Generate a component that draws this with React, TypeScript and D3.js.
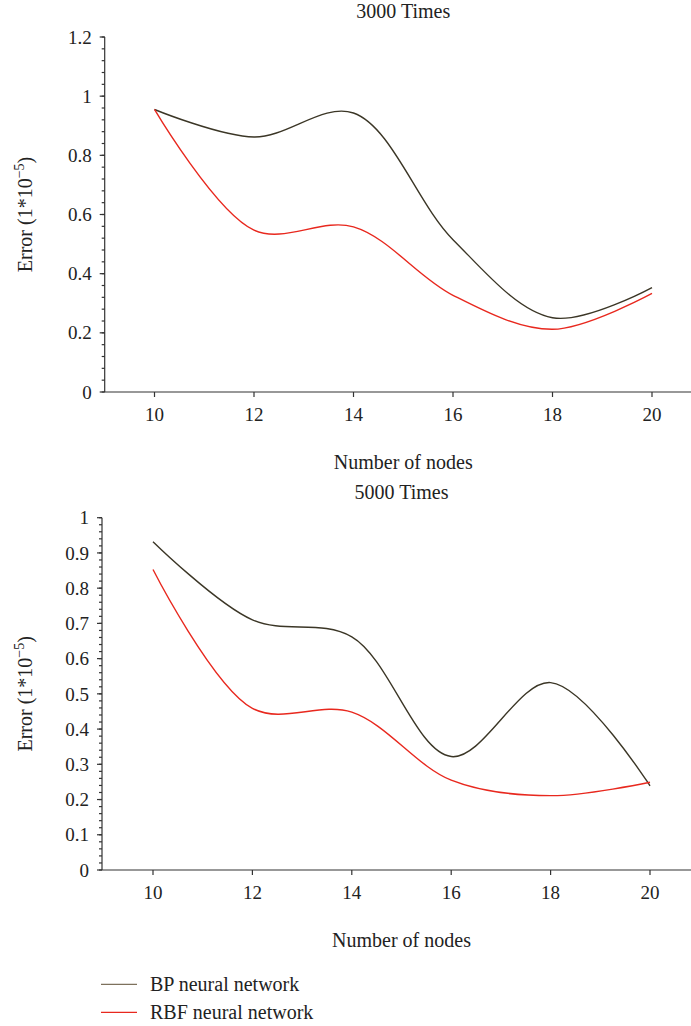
import { scaleLinear, line, curveCatmullRom, range } from 'd3'

const width = 691,
      height = 1026,
      font = "'Liberation Serif', 'DejaVu Serif', serif",
      bpColor = '#3b3626',
      rbfColor = '#e8281e'

// data
const nodes = [10, 12, 14, 16, 18, 20]
const bp3000 = [0.955, 0.862, 0.943, 0.515, 0.251, 0.353]
const rbf3000 = [0.955, 0.547, 0.558, 0.327, 0.212, 0.333]
const bp5000 = [0.932, 0.71, 0.662, 0.322, 0.532, 0.239]
const rbf5000 = [0.853, 0.459, 0.448, 0.255, 0.211, 0.249]
const ticks3000 = [0, 0.2, 0.4, 0.6, 0.8, 1, 1.2]
const ticks5000 = [0, 0.1, 0.2, 0.3, 0.4, 0.5, 0.6, 0.7, 0.8, 0.9, 1]
const legendLabels = ['BP neural network', 'RBF neural network']

type PanelProps = {
  title: string
  bp: number[]
  rbf: number[]
  yTicks: number[]
  minorStep: number
  x0: number
  x10: number
  x20: number
  yTop: number
  yBottom: number
}

const Panel = ({ title, bp, rbf, yTicks, minorStep, x0, x10, x20, yTop, yBottom }: PanelProps) => {
  const yMax = yTicks[yTicks.length - 1]
  const xScale = scaleLinear().domain([10, 20]).range([x10, x20])
  const yScale = scaleLinear().domain([0, yMax]).range([yBottom, yTop])
  const minor = range(0, yMax + minorStep / 2, minorStep)
  const path = line<number>()
    .x((d, i) => xScale(nodes[i]))
    .y(d => yScale(d))
    .curve(curveCatmullRom.alpha(0.5))

  return (
    <g fontFamily={font} fill='#222'>
      <text x={(x10 + x20) / 2} y={yTop - 19} fontSize='20' textAnchor='middle'>{title}</text>

      <g className='axis left' stroke='#333' strokeWidth='1.2'>
        <line x1={x0} x2={x0} y1={yTop} y2={yBottom} />
        {minor.map(v => (
          <line key={'m' + v} x1={x0 - 3} x2={x0} y1={yScale(v)} y2={yScale(v)} />
        ))}
        {yTicks.map(v => (
          <line key={v} x1={x0 - 5} x2={x0} y1={yScale(v)} y2={yScale(v)} />
        ))}
      </g>
      {yTicks.map(v => (
        <text key={v} x={x0 - 13} y={yScale(v)} dy='0.35em' fontSize='19' textAnchor='end'>{String(v)}</text>
      ))}
      <text transform={`translate(25, ${(yTop + yBottom) / 2}) rotate(-90)`} fontSize='20' textAnchor='middle' dy='0.35em'>
        Error (1*10<tspan dy='-8' fontSize='14'>−5</tspan><tspan dy='8'>)</tspan>
      </text>

      <g className='axis bottom' stroke='#333' strokeWidth='1.2'>
        <line x1={x0} x2={width} y1={yBottom} y2={yBottom} />
        {nodes.map(n => (
          <line key={n} x1={xScale(n)} x2={xScale(n)} y1={yBottom} y2={yBottom + 5} />
        ))}
      </g>
      {nodes.map(n => (
        <text key={n} x={xScale(n)} y={yBottom + 22} dy='0.35em' fontSize='19' textAnchor='middle'>{n}</text>
      ))}
      <text x={(x10 + x20) / 2} y={yBottom + 70} dy='0.35em' fontSize='20' textAnchor='middle'>Number of nodes</text>

      <path d={path(bp) || ''} fill='none' stroke={bpColor} strokeWidth='1.4' />
      <path d={path(rbf) || ''} fill='none' stroke={rbfColor} strokeWidth='1.4' />
    </g>
  )
}

export default function App() {
  return (
    <svg width={width} height={height} style={{ position: 'absolute', left: 0, top: 0, background: '#fff' }}>
      <Panel title='3000 Times' bp={bp3000} rbf={rbf3000} yTicks={ticks3000} minorStep={0.04}
        x0={104.7} x10={154.5} x20={652} yTop={37} yBottom={392} />
      <Panel title='5000 Times' bp={bp5000} rbf={rbf5000} yTicks={ticks5000} minorStep={0.02}
        x0={102} x10={153} x20={650} yTop={517.7} yBottom={870} />

      <g className='legend' fontFamily={font} fontSize='20' fill='#222'>
        {legendLabels.map((label, i) => (
          <g key={label} transform={`translate(101, ${984.3 + i * 28})`}>
            <line x1='0' x2='36' stroke={i === 0 ? '#7d715c' : rbfColor} strokeWidth='1.3' />
            <text x='49' dy='0.35em'>{label}</text>
          </g>
        ))}
      </g>
    </svg>
  )
}
